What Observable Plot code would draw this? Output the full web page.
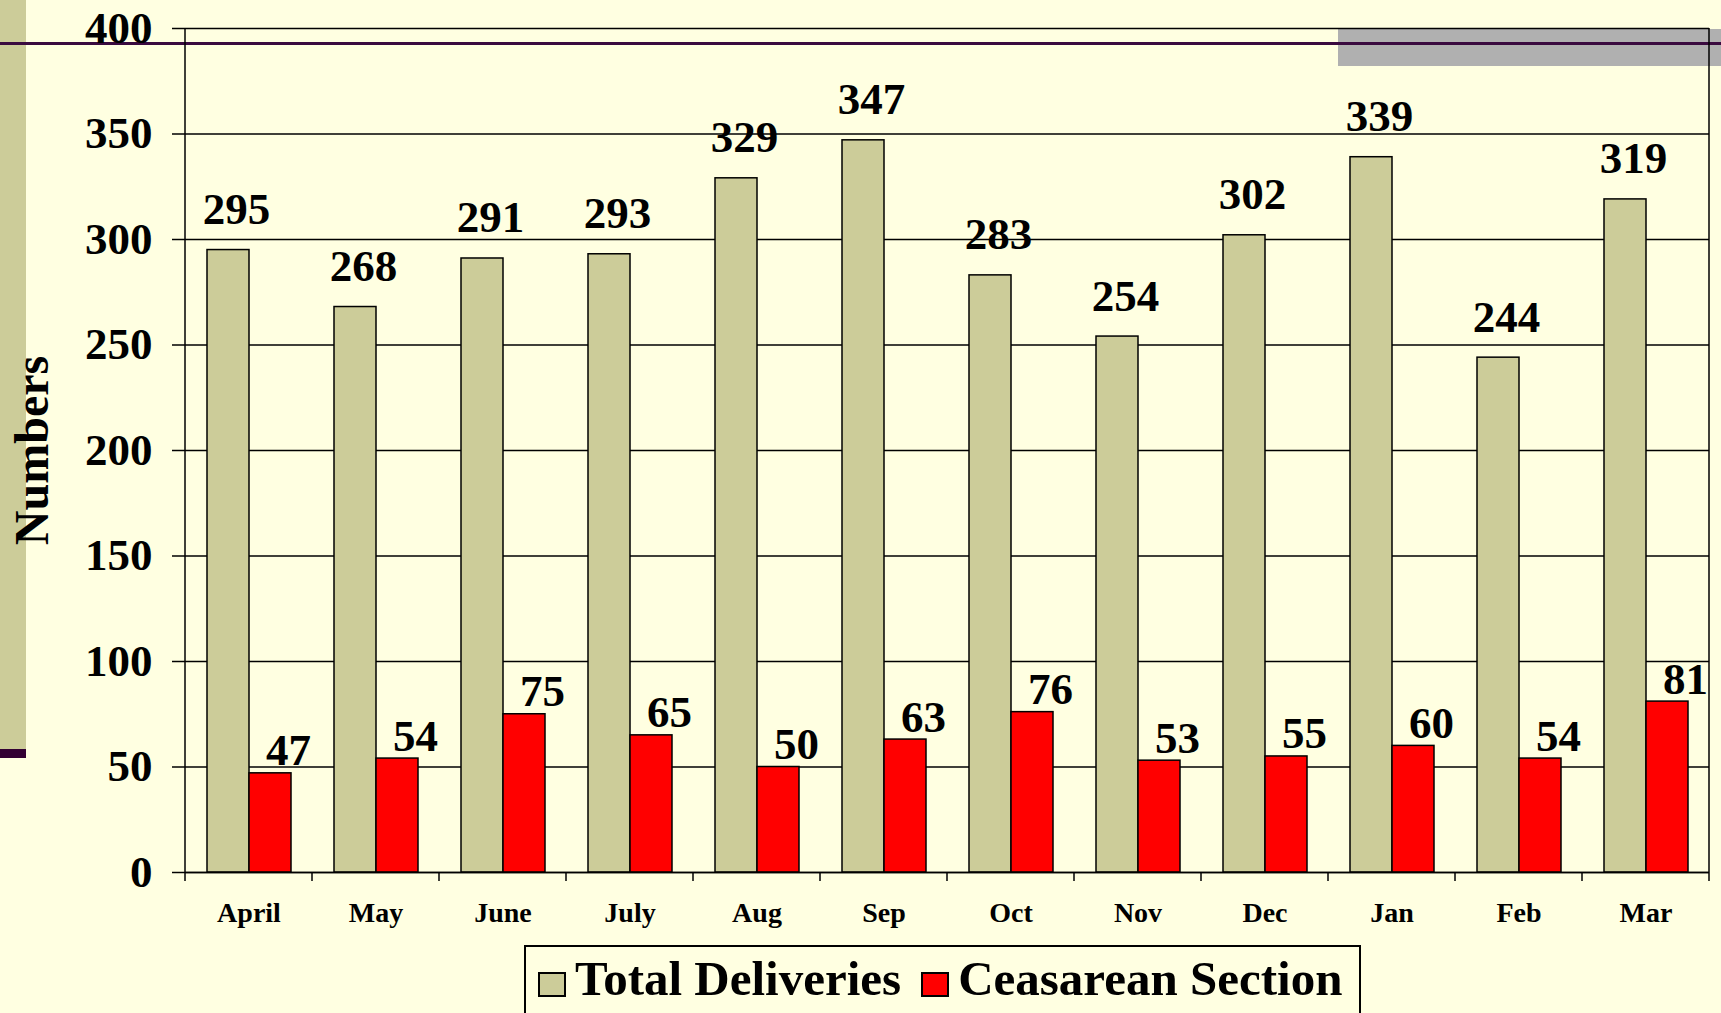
<!DOCTYPE html>
<html>
<head>
<meta charset="utf-8">
<script src="https://cdn.jsdelivr.net/npm/d3@7"></script>
<script src="https://cdn.jsdelivr.net/npm/@observablehq/plot@0.6"></script>
<style>
  html, body { margin:0; padding:0; background:#FFFFE1; width:1721px; height:1013px; overflow:hidden; font-family:"Liberation Serif", "Times New Roman", serif; }
  #page { position:relative; width:1721px; height:1013px; }
  .deco { position:absolute; }
  #chart { position:absolute; left:0; top:0; }
  #chart svg text { font-family:"Liberation Serif", "Times New Roman", serif; }
  #chart g[aria-label="y-axis label"] text { font-size:48px; }
  #legend { position:absolute; left:524px; top:945px; width:837px; height:90px; border:2px solid #000; box-sizing:border-box; background:#FFFFE1; padding:7px 0 0 12px; font-size:49px; font-weight:bold; line-height:49px; white-space:nowrap; }
  #legend .sw { display:inline-block; width:28px; height:25px; border:2px solid #000; box-sizing:border-box; vertical-align:-2px; margin-right:9px; }
  #legend .item { display:inline-block; margin-right:20px; }
</style>
</head>
<body>
<div id="page">
  <div class="deco" style="left:0;top:0;width:26px;height:749px;background:#CCCC99;"></div>
  <div class="deco" style="left:0;top:749px;width:26px;height:9px;background:#330033;"></div>
  <div class="deco" style="left:1338px;top:29px;width:383px;height:37px;background:#B0B0B0;"></div>
  <div class="deco" style="left:0;top:42px;width:1721px;height:3px;background:#3A0A3F;"></div>
  <div id="chart"></div>
  <div id="legend"></div>
</div>
<script>
// ---- data ----
const months = ["April","May","June","July","Aug","Sep","Oct","Nov","Dec","Jan","Feb","Mar"];
const totalDeliveries = [295,268,291,293,329,347,283,254,302,339,244,319];
const caesareanSection = [47,54,75,65,50,63,76,53,55,60,54,81];
const seriesNames = ["Total Deliveries","Ceasarean Section"];
const seriesColors = ["#CCCC99","#FF0000"];
const yTicks = [0,50,100,150,200,250,300,350,400];
const yLabel = "Numbers";

const data = months.flatMap((m, i) => [
  {month: m, series: seriesNames[0], value: totalDeliveries[i]},
  {month: m, series: seriesNames[1], value: caesareanSection[i]}
]);

const chart = Plot.plot({
  width: 1721,
  height: 940,
  marginTop: 28,
  marginBottom: 68,
  marginLeft: 183,
  marginRight: 11,
  style: {background: "transparent", fontFamily: "Liberation Serif, serif", fontWeight: "bold", overflow: "visible", color: "#000"},
  fx: {domain: months, padding: 0, label: null},
  x: {domain: seriesNames, paddingInner: 0, paddingOuter: 0.487, axis: null},
  y: {domain: [0, 400], label: null},
  color: {domain: seriesNames, range: seriesColors},
  marks: [
    Plot.gridY(yTicks, {stroke: "#000", strokeOpacity: 1, strokeWidth: 1.5}),
    Plot.barY(data, {fx: "month", x: "series", y: "value", fill: "series", stroke: "#000", strokeWidth: 1.5}),
    Plot.text(data.filter(d => d.series === seriesNames[0]), {
      fx: "month", x: "series", y: "value", text: d => String(d.value),
      lineAnchor: "bottom", dy: -26, dx: 8, fontSize: 45, fontWeight: "bold", fill: "#000"
    }),
    Plot.text(data.filter(d => d.series === seriesNames[1]), {
      fx: "month", x: "series", y: "value", text: d => String(d.value),
      lineAnchor: "bottom", dy: -8, dx: 18, fontSize: 45, fontWeight: "bold", fill: "#000"
    }),
    Plot.axisY(yTicks, {tickSize: 13, tickPadding: 20, fontSize: 45, fontWeight: "bold", stroke: "#000", strokeWidth: 1.5, label: yLabel, labelArrow: false, labelAnchor: "center", labelOffset: 172}),
    Plot.axisFx({anchor: "bottom", tickSize: 0, tickPadding: 30, fontSize: 28, fontWeight: "bold", label: null}),
    Plot.ruleY([0], {stroke: "#000", strokeWidth: 1.5})
  ]
});

// make sure the axis title has no arrow
d3.select(chart).selectAll('g[aria-label="y-axis label"] text').text(yLabel);

// Category boundary ticks and plot-area border, positioned from Plot's own scales
const fx = chart.scale("fx");
const ys = chart.scale("y");
const y0 = ys.apply(0), yTop = ys.apply(400);
const bounds = months.map(m => fx.apply(m)).concat([fx.apply(months[months.length - 1]) + fx.bandwidth]);
const g = d3.select(chart).append("g").attr("stroke", "#000").attr("stroke-width", 1.5);
g.selectAll("line.tick").data(bounds).join("line").attr("class", "tick")
  .attr("x1", d => d).attr("x2", d => d).attr("y1", y0).attr("y2", y0 + 9);
g.append("line").attr("x1", bounds[0]).attr("x2", bounds[0]).attr("y1", yTop).attr("y2", y0);
g.append("line").attr("x1", bounds[bounds.length - 1]).attr("x2", bounds[bounds.length - 1]).attr("y1", yTop).attr("y2", y0);

document.getElementById("chart").appendChild(chart);

// Legend
const legend = d3.select("#legend");
seriesNames.forEach((name, i) => {
  const item = legend.append("span").attr("class", "item");
  item.append("span").attr("class", "sw").style("background", seriesColors[i]);
  item.append("span").text(name);
});
</script>
</body>
</html>
